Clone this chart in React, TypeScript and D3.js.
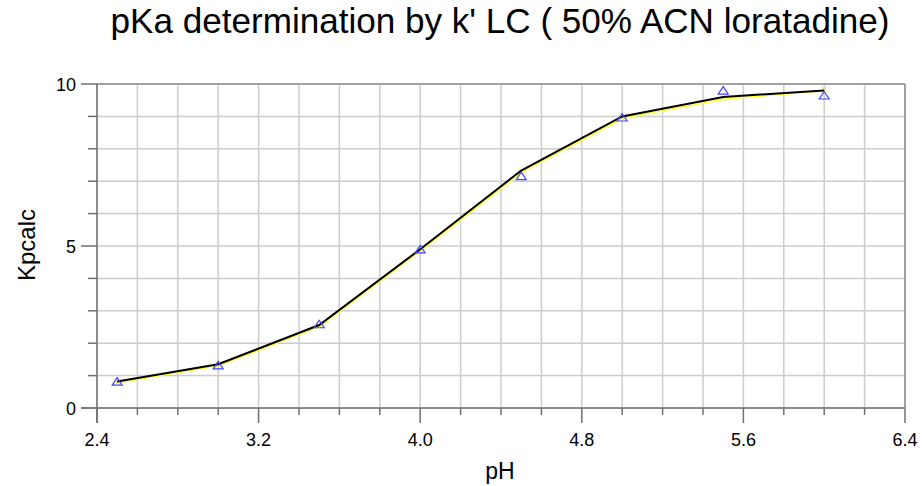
import React from "react";
import * as d3 from "d3";

const pH = [2.5, 3.0, 3.5, 4.0, 4.5, 5.0, 5.5, 6.0];
const observed = [0.8, 1.3, 2.57, 4.88, 7.14, 8.95, 9.78, 9.63];
const fitBlack = [0.82, 1.35, 2.56, 4.9, 7.33, 9.0, 9.6, 9.8];
const fitYellow = [0.8, 1.33, 2.54, 4.88, 7.3, 8.96, 9.55, 9.82];
const xTicks = [2.4, 3.2, 4.0, 4.8, 5.6, 6.4];
const yTicks = [0, 5, 10];
const title = "pKa determination by k' LC ( 50% ACN loratadine)";

const W = 923, H = 486;
const L = 97, R = 905, T = 84, B = 408;

export default function App() {
  const x = d3.scaleLinear().domain([2.4, 6.4]).range([L, R]);
  const y = d3.scaleLinear().domain([0, 10]).range([B, T]);
  const xMinor = d3.range(0, 21).map((i) => 2.4 + i * 0.2);
  const yMinor = d3.range(0, 11);
  const line = d3.line<number>().x((_, i) => x(pH[i])).y((d) => y(d));
  const font = "Liberation Sans, Arial, sans-serif";
  const tri = (cx: number, cy: number) =>
    `M${cx},${cy - 4.5} L${cx + 5},${cy + 3} L${cx - 5},${cy + 3} Z`;
  return (
    <svg width={W} height={H} style={{ position: "absolute", left: 0, top: 0, background: "#fff" }}>
      <rect x={0} y={0} width={W} height={H} fill="#fff" />
      <text x={500} y={33} fontFamily={font} fontSize={35} textAnchor="middle" textLength={779} lengthAdjust="spacingAndGlyphs" fill="#000">
        {title}
      </text>
      {xMinor.map((v, i) => (
        <line key={"gx" + i} x1={x(v)} x2={x(v)} y1={T} y2={B} stroke="#cccccc" strokeWidth={1.5} />
      ))}
      {yMinor.map((v, i) => (
        <line key={"gy" + i} x1={L} x2={R} y1={y(v)} y2={y(v)} stroke="#cccccc" strokeWidth={1.5} />
      ))}
      <line x1={L} x2={R} y1={T} y2={T} stroke="#8c8c8c" strokeWidth={1.5} />
      <line x1={R} x2={R} y1={T} y2={B} stroke="#8c8c8c" strokeWidth={1.5} />
      <line x1={L} x2={L} y1={T} y2={B + 15} stroke="#707070" strokeWidth={1.5} />
      <line x1={L - 16} x2={R} y1={B} y2={B} stroke="#707070" strokeWidth={1.5} />
      {xMinor.map((v, i) => {
        const major = xTicks.some((t) => Math.abs(t - v) < 1e-6);
        return (
          <line key={"tx" + i} x1={x(v)} x2={x(v)} y1={B} y2={B + (major ? 15 : 7)} stroke="#707070" strokeWidth={1.5} />
        );
      })}
      {yMinor.map((v, i) => {
        const major = yTicks.includes(v);
        return (
          <line key={"ty" + i} x1={L - (major ? 16 : 9)} x2={L} y1={y(v)} y2={y(v)} stroke="#707070" strokeWidth={1.5} />
        );
      })}
      {xTicks.map((t) => (
        <text key={"lx" + t} x={x(t)} y={446} fontFamily={font} fontSize={18} textAnchor="middle" fill="#000">
          {t.toFixed(1)}
        </text>
      ))}
      {yTicks.map((t) => (
        <text key={"ly" + t} x={76} y={y(t) + 6.5} fontFamily={font} fontSize={18} textAnchor="end" fill="#000">
          {t}
        </text>
      ))}
      <text x={500} y={479} fontFamily={font} fontSize={23} textAnchor="middle" fill="#000">pH</text>
      <text transform={`translate(35,245) rotate(-90)`} fontFamily={font} fontSize={24} textAnchor="middle" fill="#000">Kpcalc</text>
      <path d={line(fitYellow) || ""} fill="none" stroke="#ffff33" strokeWidth={1.6} transform="translate(0.5,0.6)" />
      {fitYellow.map((v, i) => (
        <g key={"yx" + i} stroke="#eeee22" strokeWidth={1}>
          <line x1={x(pH[i]) - 3} x2={x(pH[i]) + 3} y1={y(v) - 3} y2={y(v) + 3} />
          <line x1={x(pH[i]) - 3} x2={x(pH[i]) + 3} y1={y(v) + 3} y2={y(v) - 3} />
        </g>
      ))}
      <path d={line(fitBlack) || ""} fill="none" stroke="#000" strokeWidth={2} />
      {observed.map((v, i) => (
        <path key={"tr" + i} d={tri(x(pH[i]), y(v))} fill="none" stroke="#4444ff" strokeWidth={1.2} />
      ))}
    </svg>
  );
}
